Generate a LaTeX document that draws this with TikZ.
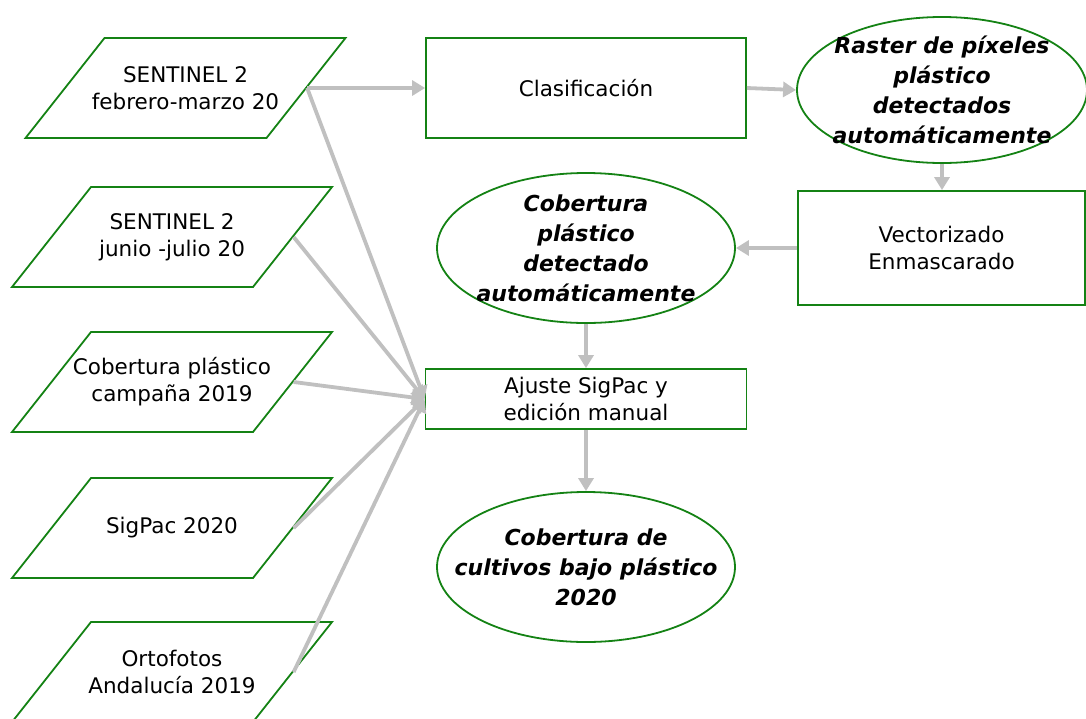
\documentclass[tikz,border=0pt]{standalone}
\usepackage{fontspec}
\setmainfont{DejaVu Sans}
\usepackage{xcolor}
\usepackage{tikz}
\usetikzlibrary{shapes,arrows}
\usetikzlibrary{arrows.meta}
\definecolor{verde}{RGB}{20,130,20}
\definecolor{gris}{RGB}{192,192,192}
\tikzstyle{dato} = [draw=verde, line width=1.8pt, trapezium,
trapezium left angle=51.7, trapezium right angle=128.3,
inner xsep=81pt, inner ysep=50pt]
\tikzstyle{texto} = [align=center, font=\fontsize{21.5}{27}\selectfont]
\tikzstyle{proceso} = [draw=verde, line width=1.8pt, rectangle, texto]
\tikzstyle{salida} = [draw=verde, line width=1.8pt, ellipse,
minimum width=298pt, minimum height=150pt, inner sep=0pt]
\tikzstyle{negrita} = [align=center,
font=\fontsize{22}{30}\selectfont\bfseries\itshape]
\tikzstyle{line} = [draw=gris, line width=3.8pt,
-{Triangle[length=13pt,width=15pt]}]

\begin{document}
\begin{tikzpicture}[x=1pt, y=-1pt]
\useasboundingbox (0,0) rectangle (1086,718);
%% Datos de entrada
\node [dato, label={[texto]center:{SENTINEL 2\\febrero-marzo 20}}] (S1) at (185.5,88) {};
\node [dato, label={[texto]center:{SENTINEL 2\\junio -julio 20}}] (S2) at (172,237) {};
\node [dato, label={[texto]center:{Cobertura pl\'astico\\campa\~na 2019}}] (C19) at (172,382) {};
\node [dato, label={[texto]center:{SigPac 2020}}] (SP) at (172,528) {};
\node [dato, label={[texto]center:{Ortofotos\\Andaluc\'ia 2019}}] (OF) at (172,672) {};
%% Procesos
\node [proceso, minimum width=320pt, minimum height=100pt] (clas) at (586,88) {Clasificaci\'on};
\node [proceso, minimum width=287pt, minimum height=114pt] (vect) at (941.5,248) {Vectorizado\\Enmascarado};
\node [proceso, minimum width=321pt, minimum height=60pt] (ajus) at (586,399) {Ajuste SigPac y\\edici\'on manual};
%% Resultados
\node [salida, minimum width=290pt, minimum height=146pt,
label={[negrita]center:{Raster de p\'ixeles\\pl\'astico\\detectados\\autom\'aticamente}}] (rast) at (942,90) {};
\node [salida,
label={[negrita]center:{Cobertura\\pl\'astico\\detectado\\autom\'aticamente}}] (cob) at (586,248) {};
\node [salida,
label={[negrita]center:{Cobertura de\\cultivos bajo pl\'astico\\2020}}] (fin) at (586,567) {};
%% Flechas
\path [line] (S1.east) to (clas.west);
\path [line] (clas.east) to (rast.west);
\path [line] (rast.south) to (vect.north -| rast.south);
\path [line] (vect.west) to (cob.east);
\path [line] (cob.south) to (ajus.north);
\path [line] (ajus.south) to (fin.north);
\path [line] (S1.east) to (ajus.west);
\path [line] (S2.east) to (ajus.west);
\path [line] (C19.east) to (ajus.west);
\path [line] (SP.east) to (ajus.west);
\path [line] (OF.east) to (ajus.west);
\end{tikzpicture}
\end{document}
